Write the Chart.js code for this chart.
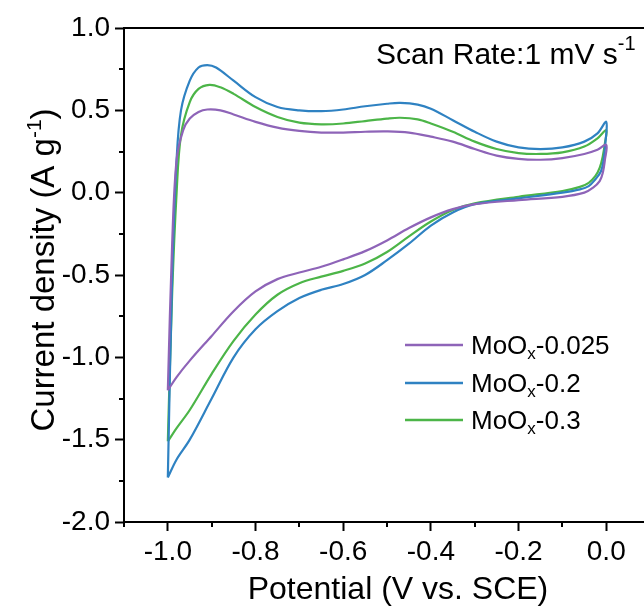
<!DOCTYPE html>
<html>
<head>
<meta charset="utf-8">
<script src="https://cdn.jsdelivr.net/npm/chart.js@4.4.1/dist/chart.umd.min.js"></script>
<style>
  html, body { margin: 0; padding: 0; background: #fff; overflow: hidden; }
  #wrap { position: relative; width: 690px; height: 609px; }
</style>
</head>
<body>
<div id="wrap"><canvas id="cv" width="690" height="609"></canvas></div>
<script>
// tick labels
const xTicks = [-1.0, -0.8, -0.6, -0.4, -0.2, 0.0];
const yTicks = [-2.0, -1.5, -1.0, -0.5, 0.0, 0.5, 1.0];

// MoOx-0.025 (anodic sweep then cathodic sweep)
const potA = [-1.0, -0.99, -0.98, -0.965, -0.95, -0.93, -0.91, -0.88, -0.85, -0.8, -0.75, -0.7, -0.65, -0.6, -0.55, -0.5, -0.45, -0.4, -0.35, -0.3, -0.25, -0.2, -0.15, -0.1, -0.05, -0.02, 0.0,
              -0.003, -0.008, -0.015, -0.03, -0.05, -0.1, -0.2, -0.3, -0.35, -0.4, -0.45, -0.5, -0.55, -0.6, -0.65, -0.7, -0.75, -0.8, -0.85, -0.9, -0.95, -0.98, -1.0];
const curA = [-1.2, -0.3, 0.2, 0.38, 0.45, 0.49, 0.505, 0.5, 0.475, 0.43, 0.395, 0.375, 0.365, 0.365, 0.37, 0.372, 0.365, 0.34, 0.31, 0.265, 0.225, 0.205, 0.2, 0.21, 0.235, 0.26, 0.29,
              0.2, 0.12, 0.07, 0.03, 0.0, -0.025, -0.045, -0.07, -0.1, -0.15, -0.215, -0.29, -0.355, -0.405, -0.45, -0.485, -0.525, -0.6, -0.72, -0.87, -1.02, -1.12, -1.2];

// MoOx-0.2
const potB = [-1.0, -0.99, -0.98, -0.97, -0.95, -0.93, -0.91, -0.89, -0.85, -0.8, -0.75, -0.7, -0.65, -0.6, -0.55, -0.5, -0.47, -0.43, -0.4, -0.35, -0.3, -0.25, -0.2, -0.15, -0.1, -0.05, -0.02, 0.0,
              -0.002, -0.006, -0.012, -0.025, -0.04, -0.06, -0.1, -0.2, -0.3, -0.35, -0.4, -0.45, -0.5, -0.55, -0.6, -0.65, -0.7, -0.75, -0.8, -0.85, -0.9, -0.95, -0.98, -1.0];
const curB = [-1.73, -0.5, 0.2, 0.5, 0.68, 0.76, 0.775, 0.76, 0.68, 0.58, 0.52, 0.5, 0.495, 0.505, 0.525, 0.54, 0.545, 0.535, 0.51, 0.44, 0.37, 0.31, 0.275, 0.265, 0.275, 0.31, 0.36, 0.43,
              0.3, 0.2, 0.13, 0.08, 0.04, 0.02, 0.0, -0.035, -0.07, -0.12, -0.2, -0.31, -0.41, -0.5, -0.555, -0.59, -0.64, -0.72, -0.83, -1.0, -1.25, -1.5, -1.62, -1.73];

// MoOx-0.3
const potC = [-1.0, -0.99, -0.98, -0.97, -0.95, -0.93, -0.905, -0.88, -0.85, -0.8, -0.75, -0.7, -0.65, -0.6, -0.55, -0.5, -0.47, -0.43, -0.4, -0.35, -0.3, -0.25, -0.2, -0.15, -0.1, -0.05, -0.02, 0.0,
              -0.003, -0.008, -0.015, -0.025, -0.04, -0.06, -0.1, -0.2, -0.3, -0.35, -0.4, -0.45, -0.5, -0.55, -0.6, -0.65, -0.7, -0.75, -0.8, -0.85, -0.9, -0.95, -0.98, -1.0];
const curC = [-1.51, -0.6, 0.0, 0.35, 0.55, 0.63, 0.655, 0.64, 0.6, 0.52, 0.46, 0.425, 0.415, 0.42, 0.435, 0.45, 0.455, 0.445, 0.42, 0.37, 0.31, 0.265, 0.24, 0.235, 0.245, 0.28, 0.33, 0.38,
              0.3, 0.22, 0.15, 0.1, 0.06, 0.035, 0.01, -0.025, -0.065, -0.105, -0.175, -0.265, -0.36, -0.43, -0.475, -0.51, -0.55, -0.62, -0.74, -0.9, -1.1, -1.32, -1.43, -1.51];

const names = ['MoOx-0.025', 'MoOx-0.2', 'MoOx-0.3'];
const colors = ['#8e64b8', '#2f82c2', '#4cb548'];

function pairs(xs, ys) {
  return xs.map((x, i) => ({ x: x, y: ys[i] }));
}

const FONT = '"Liberation Sans", Arial, sans-serif';

// draws the frame, minor ticks, y title, note and legend
const extras = {
  id: 'extras',
  afterDraw(chart) {
    const ctx = chart.ctx;
    const a = chart.chartArea;
    const xs = chart.scales.x, ys = chart.scales.y;
    ctx.save();
    ctx.strokeStyle = '#000';
    ctx.lineWidth = 2;
    ctx.beginPath();
    ctx.moveTo(a.left, a.top);
    ctx.lineTo(a.right, a.top);
    ctx.lineTo(a.right, a.bottom);
    ctx.stroke();

    // minor ticks
    ctx.beginPath();
    for (let v = -1.1; v < 0.15; v += 0.2) {
      const px = Math.round(xs.getPixelForValue(v));
      ctx.moveTo(px, a.bottom);
      ctx.lineTo(px, a.bottom + 5);
    }
    for (let v = -1.75; v < 1; v += 0.5) {
      const py = Math.round(ys.getPixelForValue(v));
      ctx.moveTo(a.left, py);
      ctx.lineTo(a.left - 5, py);
    }
    ctx.stroke();

    ctx.fillStyle = '#000';
    ctx.textBaseline = 'alphabetic';

    // y title, rotated, with superscript
    ctx.save();
    ctx.translate(54, 270);
    ctx.rotate(-Math.PI / 2);
    const big = '33px ' + FONT;
    const small = '21px ' + FONT;
    ctx.font = big;
    const p1 = 'Current density (A g';
    const w1 = ctx.measureText(p1).width;
    ctx.font = small;
    const w2 = ctx.measureText('-1').width;
    ctx.font = big;
    const w3 = ctx.measureText(')').width;
    let sx = -(w1 + w2 + w3) / 2;
    ctx.fillText(p1, sx, 0);
    ctx.font = small;
    ctx.fillText('-1', sx + w1, -13);
    ctx.font = big;
    ctx.fillText(')', sx + w1 + w2, 0);
    ctx.restore();

    // scan rate note
    ctx.font = '30px ' + FONT;
    ctx.fillText('Scan Rate:1 mV s', 376, 64);
    const wn = ctx.measureText('Scan Rate:1 mV s').width;
    ctx.font = '20px ' + FONT;
    ctx.fillText('-1', 376 + wn, 50);

    // legend
    const ly = [345, 383, 420];
    chart.data.datasets.forEach((ds, i) => {
      ctx.strokeStyle = ds.borderColor;
      ctx.lineWidth = 2.5;
      ctx.beginPath();
      ctx.moveTo(405, ly[i]);
      ctx.lineTo(463, ly[i]);
      ctx.stroke();
      const parts = ds.label.split('x');
      ctx.fillStyle = '#000';
      ctx.font = '26px ' + FONT;
      ctx.fillText(parts[0], 471, ly[i] + 9);
      let tx = 471 + ctx.measureText(parts[0]).width;
      ctx.font = '17px ' + FONT;
      ctx.fillText('x', tx, ly[i] + 14);
      tx += ctx.measureText('x').width;
      ctx.font = '26px ' + FONT;
      ctx.fillText(parts[1], tx, ly[i] + 9);
    });
    ctx.restore();
  }
};

new Chart(document.getElementById('cv'), {
  type: 'scatter',
  data: {
    datasets: [
      { label: names[0], data: pairs(potA, curA), borderColor: colors[0] },
      { label: names[1], data: pairs(potB, curB), borderColor: colors[1] },
      { label: names[2], data: pairs(potC, curC), borderColor: colors[2] }
    ].map(d => Object.assign(d, { showLine: true, pointRadius: 0, borderWidth: 2.2, tension: 0.35, fill: false }))
  },
  options: {
    responsive: false,
    animation: false,
    layout: { padding: { left: 0, top: 28, right: 18, bottom: 0 } },
    plugins: { legend: { display: false }, tooltip: { enabled: false } },
    scales: {
      x: {
        type: 'linear',
        min: -1.1,
        max: 0.15,
        afterBuildTicks: s => { s.ticks = xTicks.map(v => ({ value: v })); },
        afterFit: s => { s.height = 87; },
        grid: { drawOnChartArea: false, drawTicks: true, tickLength: 9, tickWidth: 2, tickColor: '#000' },
        border: { display: true, color: '#000', width: 2 },
        ticks: {
          color: '#000', padding: 4, maxRotation: 0,
          font: { family: FONT, size: 28 },
          callback: v => v.toFixed(1)
        },
        title: {
          display: true, text: 'Potential (V vs. SCE)', color: '#000', padding: { top: 0, bottom: 0 },
          font: { family: FONT, size: 32 }
        }
      },
      y: {
        type: 'linear',
        min: -2,
        max: 1,
        afterBuildTicks: s => { s.ticks = yTicks.map(v => ({ value: v })); },
        afterFit: s => { s.width = 124; },
        grid: { drawOnChartArea: false, drawTicks: true, tickLength: 9, tickWidth: 2, tickColor: '#000' },
        border: { display: true, color: '#000', width: 2 },
        ticks: {
          color: '#000', padding: 5,
          font: { family: FONT, size: 28 },
          callback: v => v.toFixed(1)
        }
      }
    }
  },
  plugins: [extras]
});
</script>
</body>
</html>
